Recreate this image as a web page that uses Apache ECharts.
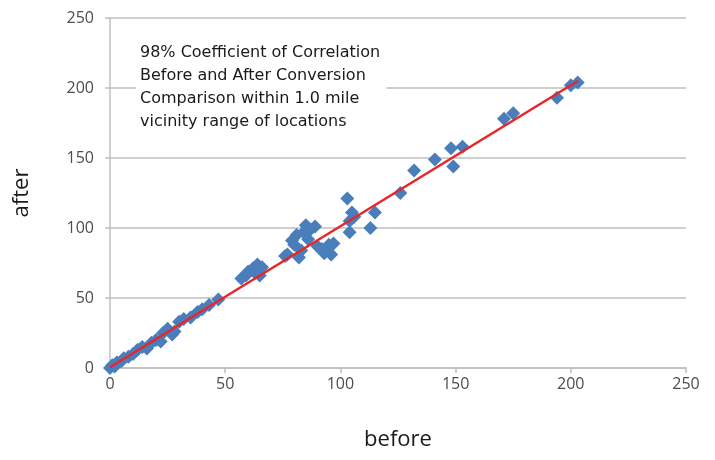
<!DOCTYPE html>
<html>
<head>
<meta charset="utf-8">
<script src="https://cdn.jsdelivr.net/npm/echarts@6/dist/echarts.min.js"></script>
<style>html,body{margin:0;padding:0;background:#fff}#c{width:715px;height:460px}</style>
</head>
<body>
<div id="c"></div>
<script>
var xTicks = [0, 50, 100, 150, 200, 250];
var yTicks = [0, 50, 100, 150, 200, 250];
var lowPoints = [[0,0],[1,2],[2,1],[3,4],[5,5],[6,7],[8,8],[10,10],[12,13],[14,15],[16,14],[18,18],[20,20],[22,19],[23,25],[25,28],[27,24],[28,26],[30,33],[32,35],[35,36],[38,40],[40,42],[43,45],[47,49]];
var midPoints = [[57,64],[59,66],[60,69],[62,71],[63,68],[64,74],[65,66],[66,72],[76,80],[77,81],[79,91],[80,88],[81,95],[82,79],[83,84],[84,97],[85,102],[87,99],[86,92],[89,101],[90,87],[92,85],[93,82],[95,88],[96,81],[97,89]];
var highPoints = [[103,121],[104,105],[104,97],[105,111],[106,108],[113,100],[115,111],[126,125],[132,141],[141,149],[148,157],[149,144],[153,158],[171,178],[175,182],[194,193],[200,202],[203,204]];
var trendLine = [[0,0.5],[203,205]];
var annotation = ['98% Coefficient of Correlation','Before and After Conversion','Comparison within 1.0 mile','vicinity range of locations'];
var xName = 'before', yName = 'after';

var points = lowPoints.concat(midPoints, highPoints);
var chart = echarts.init(document.getElementById('c'));
var labelFont = {color:'#4d4d4d', fontSize:16, fontFamily:'"Open Sans", sans-serif'};
var nameFont = {fontSize:22, color:'#1a1a1a', fontFamily:'"Open Sans", sans-serif'};
chart.setOption({
  animation:false,
  grid:{left:110, right:29, top:18, bottom:92},
  xAxis:{type:'value', min:0, max:250, interval:50, name:xName, nameLocation:'middle', nameGap:61,
    nameTextStyle:nameFont,
    axisLine:{show:true, lineStyle:{color:'#BFBFBF', width:1.5}},
    axisTick:{show:true, length:5, lineStyle:{color:'#BFBFBF', width:1.5}},
    splitLine:{show:false},
    axisLabel:Object.assign({margin:8, formatter:function(v){return xTicks.indexOf(v)>=0? String(v):'';}}, labelFont)},
  yAxis:{type:'value', min:0, max:250, interval:50, name:yName, nameLocation:'middle', nameGap:77, nameRotate:90,
    nameTextStyle:nameFont,
    axisLine:{show:true, lineStyle:{color:'#BFBFBF', width:1.5}},
    axisTick:{show:true, length:5, lineStyle:{color:'#BFBFBF', width:1.5}},
    splitLine:{show:true, lineStyle:{color:'#BFBFBF', width:1.5}},
    axisLabel:Object.assign({margin:16, formatter:function(v){return yTicks.indexOf(v)>=0? String(v):'';}}, labelFont)},
  series:[
    {type:'scatter', data:points, symbol:'diamond', symbolSize:14, itemStyle:{color:'#4A7EBB', opacity:1}, z:2},
    {type:'line', data:trendLine, symbol:'none', lineStyle:{color:'#E8262A', width:2.5}, z:3}
  ],
  graphic:[{type:'text', left:136, top:41, z:10,
    style:{text:annotation.join('\n'), fill:'#1a1a1a', font:'16px "DejaVu Sans", sans-serif', lineHeight:23,
      backgroundColor:'#ffffff', padding:[0,6,0,4]}}]
});
</script>
</body>
</html>
